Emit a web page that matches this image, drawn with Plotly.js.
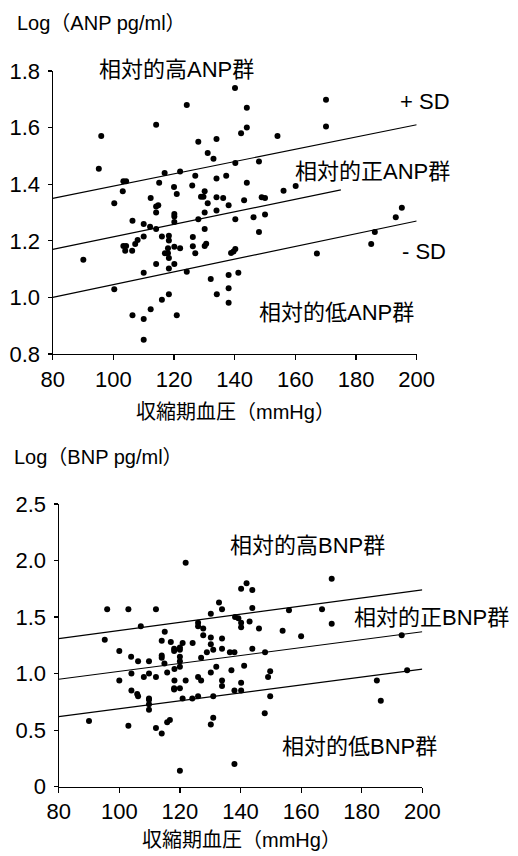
<!DOCTYPE html>
<html><head><meta charset="utf-8">
<script src="https://cdn.plot.ly/plotly-3.0.1.min.js"></script>
<style>html,body{margin:0;padding:0;background:#fff}#chart{width:518px;height:856px}</style>
</head><body><div id="chart"></div>
<script>
// ANP panel: systolic BP (mmHg) and log ANP
const anpSbp = [140.1,124.2,144.0,114.1,144.0,96.0,142.1,154.1,128.0,134.0,131.1,133.0,95.2,140.2,148.0,116.9,122.0,127.0,134.0,137.2,103.3,104.2,115.1,144.0,103.1,120.0,126.0,120.9,130.1,129.7,128.9,112.3,134.0,136.2,143.1,148.9,150.0,100.3,131.1,138.0,114.8,114.1,114.1,120.1,120.1,130.1,134.0,146.2,150.0,140.2,106.3,128.0,148.0,110.0,112.1,114.1,120.1,130.1,126.2,126.2,127.0,130.6,130.1,116.0,118.3,118.3,110.0,108.0,107.2,103.3,104.2,103.9,106.2,118.0,120.1,122.0,117.0,118.0,118.3,90.1,114.1,120.1,118.3,110.0,124.2,140.2,139.6,138.8,141.2,138.0,132.1,100.3,138.0,134.1,118.3,116.0,138.0,112.3,106.3,120.9,110.0,110.0,170.1,170.1,156.1,160.1,195.1,193.1,186.2,185.0,167.1];
const anpLog = [1.74,1.68,1.67,1.61,1.60,1.57,1.58,1.57,1.55,1.56,1.51,1.49,1.455,1.475,1.48,1.44,1.445,1.43,1.42,1.43,1.41,1.41,1.405,1.405,1.375,1.39,1.395,1.365,1.375,1.356,1.356,1.351,1.354,1.351,1.343,1.354,1.351,1.333,1.333,1.326,1.326,1.321,1.30,1.295,1.286,1.30,1.307,1.283,1.293,1.276,1.271,1.276,1.231,1.259,1.25,1.242,1.266,1.242,1.213,1.181,1.156,1.19,1.182,1.215,1.218,1.201,1.215,1.203,1.189,1.182,1.182,1.165,1.165,1.174,1.179,1.174,1.156,1.156,1.139,1.133,1.118,1.118,1.102,1.087,1.091,1.171,1.162,1.157,1.087,1.079,1.065,1.029,1.032,1.011,1.011,0.992,0.981,0.958,0.937,0.937,0.924,0.85,1.698,1.604,1.377,1.394,1.317,1.283,1.231,1.189,1.155];
// ANP regression lines (+SD, mean, -SD)
const anpUpperX = [80, 200], anpUpperY = [1.35, 1.61];
const anpMidX = [80, 175], anpMidY = [1.17, 1.38];
const anpLowerX = [80, 200], anpLowerY = [1.00, 1.27];

// BNP panel
const bnpSbp = [121.9,140.2,142.0,143.9,96.0,103.0,112.1,132.9,133.9,143.9,130.2,138.2,139.3,170.1,156.0,166.9,140.2,140.2,143.0,146.1,126.0,126.0,127.7,107.1,95.2,115.0,127.7,130.2,133.9,114.0,117.0,120.9,124.2,130.2,118.1,118.1,120.0,120.0,100.0,133.9,131.0,128.9,136.5,138.0,143.9,148.1,103.9,106.2,109.8,114.0,114.0,114.9,120.0,120.0,120.0,127.0,118.2,115.8,108.1,109.8,112.1,104.0,100.0,118.2,121.9,126.0,127.0,130.2,132.0,137.0,141.2,133.9,133.9,140.2,149.8,149.1,118.1,118.1,120.0,104.0,105.9,106.2,138.0,140.2,109.8,109.8,120.9,124.1,126.0,131.0,149.8,109.8,109.8,90.0,103.0,112.1,114.0,115.8,116.7,131.0,130.2,148.0,138.0,120.0,153.9,160.0,170.1,193.2,195.0,185.0,186.3];
const bnpLog = [1.98,1.75,1.80,1.74,1.57,1.57,1.57,1.63,1.57,1.58,1.53,1.50,1.49,1.84,1.56,1.57,1.45,1.41,1.46,1.40,1.45,1.42,1.40,1.42,1.30,1.37,1.34,1.32,1.31,1.29,1.28,1.27,1.27,1.26,1.22,1.20,1.23,1.21,1.20,1.22,1.21,1.19,1.19,1.19,1.22,1.19,1.15,1.11,1.11,1.16,1.14,1.09,1.15,1.11,1.06,1.14,1.04,1.01,0.97,1.00,0.97,1.00,0.94,0.94,0.94,0.97,0.94,1.01,1.06,1.03,1.07,0.94,0.89,0.92,1.02,0.97,0.87,0.86,0.87,0.85,0.82,0.80,0.85,0.85,0.78,0.77,0.78,0.78,0.80,0.80,0.80,0.73,0.68,0.58,0.54,0.52,0.47,0.57,0.59,0.61,0.55,0.65,0.20,0.14,1.38,1.33,1.44,1.34,1.03,0.94,0.76];
const bnpUpperX = [80, 200], bnpUpperY = [1.31, 1.74];
const bnpMidX = [80, 200], bnpMidY = [0.95, 1.37];
const bnpLowerX = [80, 200], bnpLowerY = [0.62, 1.04];

// Tick labels
const xTicks = [80, 100, 120, 140, 160, 180, 200];
const anpYTicks = [0.8, 1.0, 1.2, 1.4, 1.6, 1.8];
const anpYTickText = ['0.8','1.0','1.2','1.4','1.6','1.8'];
const bnpYTicks = [0, 0.5, 1.0, 1.5, 2.0, 2.5];
const bnpYTickText = ['0','0.5','1.0','1.5','2.0','2.5'];

const FONT = 'Liberation Sans, Arial, Noto Sans CJK JP, sans-serif';
const W = 518, H = 856;

function dots(x, y, xa, ya) {
  return {x: x, y: y, xaxis: xa, yaxis: ya, type: 'scatter', mode: 'markers',
    marker: {color: '#000', size: 6}, cliponaxis: false, hoverinfo: 'skip', showlegend: false};
}
function line(x, y, xa, ya) {
  return {x: x, y: y, xaxis: xa, yaxis: ya, type: 'scatter', mode: 'lines',
    line: {color: '#000', width: 1.2}, hoverinfo: 'skip', showlegend: false};
}

const traces = [
  line(anpUpperX, anpUpperY, 'x', 'y'),
  line(anpMidX, anpMidY, 'x', 'y'),
  line(anpLowerX, anpLowerY, 'x', 'y'),
  dots(anpSbp, anpLog, 'x', 'y'),
  line(bnpUpperX, bnpUpperY, 'x2', 'y2'),
  line(bnpMidX, bnpMidY, 'x2', 'y2'),
  line(bnpLowerX, bnpLowerY, 'x2', 'y2'),
  dots(bnpSbp, bnpLog, 'x2', 'y2')
];

function xax(dom, anchor) {
  return {domain: dom, anchor: anchor, range: [80, 200], tickvals: xTicks, ticktext: xTicks.map(String),
    showline: true, linecolor: '#000', linewidth: 1.2, ticks: 'outside', ticklen: 5, tickwidth: 1.2, tickcolor: '#000',
    showgrid: false, zeroline: false, tickfont: {family: FONT, size: 22, color: '#000'}, fixedrange: true};
}
function yax(dom, anchor, range, tv, tt) {
  return {domain: dom, anchor: anchor, range: range, tickvals: tv, ticktext: tt,
    showline: true, linecolor: '#000', linewidth: 1.2, ticks: 'outside', ticklen: 4, tickwidth: 1.2, tickcolor: '#000',
    ticklabelstandoff: 3,
    showgrid: false, zeroline: false, tickfont: {family: FONT, size: 22, color: '#000'}, fixedrange: true};
}

function txt(text, x, y, xref, yref, xanchor, size) {
  return {text: text, x: x, y: y, xref: xref, yref: yref, xanchor: xanchor, yanchor: 'middle',
    showarrow: false, font: {family: FONT, size: size, color: '#000'}};
}

const layout = {
  width: W, height: H,
  margin: {l: 0, r: 0, t: 0, b: 0, pad: 0},
  paper_bgcolor: '#fff', plot_bgcolor: '#fff',
  showlegend: false,
  xaxis: xax([52.7 / W, 416.7 / W], 'y'),
  yaxis: yax([(H - 354) / H, (H - 71) / H], 'x', [0.8, 1.8], anpYTicks, anpYTickText),
  xaxis2: xax([58.7 / W, 422.3 / W], 'y2'),
  yaxis2: yax([(H - 786.7) / H, (H - 504) / H], 'x2', [0, 2.5], bnpYTicks, bnpYTickText),
  annotations: [
    txt('Log（ANP pg/ml）', 15 / W, (H - 23) / H, 'paper', 'paper', 'left', 20),
    txt('収縮期血圧（mmHg）', 235 / W, (H - 412) / H, 'paper', 'paper', 'center', 20),
    txt('Log（BNP pg/ml）', 12 / W, (H - 457) / H, 'paper', 'paper', 'left', 20),
    txt('収縮期血圧（mmHg）', 241 / W, (H - 840) / H, 'paper', 'paper', 'center', 20),
    txt('相対的高ANP群', 97 / W, (H - 70) / H, 'paper', 'paper', 'left', 22),
    txt('+ SD', 193.9, 1.692, 'x', 'y', 'left', 22),
    txt('相対的正ANP群', 159.3, 1.445, 'x', 'y', 'left', 22),
    txt('- SD', 194.4, 1.162, 'x', 'y', 'left', 22),
    txt('相対的低ANP群', 147.4, 0.945, 'x', 'y', 'left', 22),
    txt('相対的高BNP群', 135.9, 2.137, 'x2', 'y2', 'left', 22),
    txt('+ SD', 202.5, 1.987, 'x2', 'y2', 'left', 22),
    txt('相対的正BNP群', 176.8, 1.492, 'x2', 'y2', 'left', 22),
    txt('-  SD', 200.9, 0.831, 'x2', 'y2', 'left', 22),
    txt('相対的低BNP群', 153.0, 0.354, 'x2', 'y2', 'left', 22)
  ]
};

Plotly.newPlot('chart', traces, layout, {staticPlot: true, displayModeBar: false});
</script>
</body></html>
